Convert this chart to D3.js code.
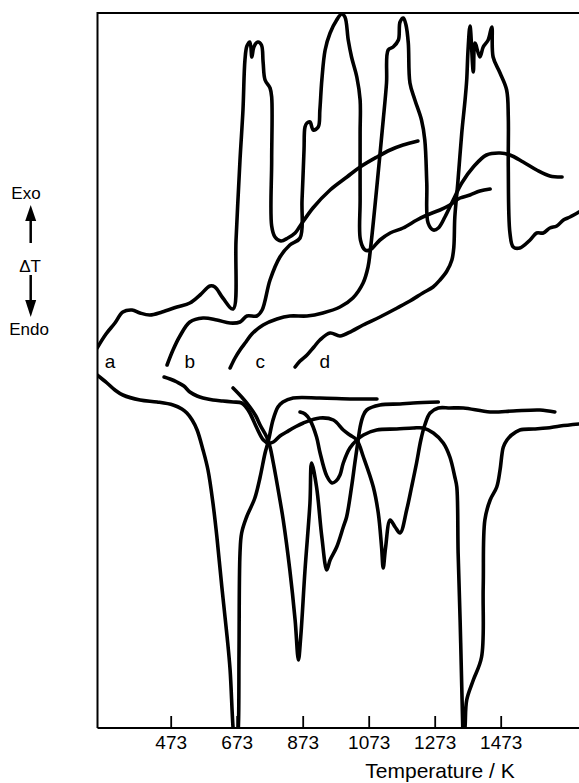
<!DOCTYPE html>
<html><head><meta charset="utf-8">
<script src="https://cdn.jsdelivr.net/npm/d3@7"></script>
<style>body{margin:0;background:#fff} svg{display:block}</style>
</head><body>
<script>
// Temperature axis ticks (K)
const tempTicks = [473, 673, 873, 1073, 1273, 1473];
// Curve labels and where they sit (temperature, ΔT arbitrary units)
const curveNames = ["a", "b", "c", "d"];
const labelTemps = [289, 531, 744, 940];
const labelLevel = 36.0;

// Heating traces (exo upward) — [Temperature K, ΔT arbitrary units]
const heatA = [[250,38.0],[277,39.4],[304,40.5],[328,41.6],[356,41.8],[380,41.5],[410,41.3],[447,41.6],[492,42.1],[531,42.5],[562,43.3],[592,44.2],[607,44.1],[631,43.0],[662,41.9],[671,48.8],[683,56.8],[692,61.8],[698,66.8],[704,68.2],[713,68.6],[719,67.1],[725,68.1],[737,68.6],[748,68.3],[753,66.6],[759,64.8],[774,64.0],[779,63.1],[779,56.8],[779,50.2],[789,49.1],[807,48.7],[828,49.0],[850,49.5],[865,50.2],[904,52.0],[956,53.8],[1007,55.1],[1047,56.1],[1098,57.1],[1138,57.8],[1177,58.3],[1222,58.7]];
const heatB = [[462,36.3],[480,37.8],[501,39.2],[531,40.6],[571,41.0],[613,40.8],[653,40.5],[683,40.6],[704,41.2],[734,41.2],[750,41.8],[774,44.8],[804,47.1],[834,48.3],[865,49.0],[871,52.8],[877,57.8],[880,60.1],[886,60.5],[895,60.6],[905,59.8],[920,60.1],[925,61.8],[931,64.8],[941,67.8],[956,69.5],[976,70.8],[991,71.4],[1001,71.1],[1011,68.8],[1021,67.1],[1037,65.1],[1047,62.8],[1047,59.5],[1047,52.8],[1048,48.8],[1062,47.8],[1077,47.8],[1107,48.8],[1138,49.5],[1177,50.0],[1219,50.8],[1250,51.3],[1289,51.8],[1319,52.3],[1350,53.0],[1380,53.3],[1410,53.7],[1441,53.9]];
const heatC = [[653,36.0],[668,37.0],[683,37.8],[701,38.6],[719,39.4],[753,40.3],[795,40.9],[834,41.2],[886,41.2],[934,41.5],[986,42.1],[1025,43.0],[1056,44.5],[1071,46.1],[1077,47.5],[1117,60.8],[1127,64.5],[1132,67.8],[1147,68.1],[1163,68.8],[1168,70.6],[1178,71.0],[1186,70.3],[1193,68.5],[1198,64.5],[1213,62.8],[1233,60.8],[1243,58.8],[1249,54.5],[1253,50.5],[1269,49.8],[1284,50.0],[1304,51.1],[1329,52.8],[1355,54.5],[1390,56.1],[1430,57.3],[1471,57.5],[1501,57.3],[1541,56.6],[1582,55.8],[1622,55.2],[1659,55.1]];
const heatD = [[850,36.1],[865,36.7],[886,37.3],[907,38.1],[925,38.8],[956,39.5],[986,39.2],[1022,39.7],[1056,40.3],[1107,41.1],[1159,42.0],[1198,42.7],[1237,43.5],[1268,44.1],[1289,44.8],[1310,45.7],[1325,46.8],[1331,48.1],[1334,51.1],[1343,54.5],[1355,59.5],[1365,62.8],[1370,64.8],[1374,67.8],[1380,70.2],[1390,65.6],[1395,68.5],[1410,67.1],[1420,68.1],[1435,68.8],[1446,70.1],[1450,67.1],[1471,65.5],[1491,63.8],[1496,61.1],[1496,56.1],[1501,49.5],[1511,48.1],[1531,48.0],[1562,48.8],[1582,49.5],[1602,49.5],[1622,50.0],[1643,50.2],[1663,50.8],[1683,51.1],[1710,51.6]];

// Cooling traces (endo downward)
const coolA = [[250,35.3],[280,34.5],[304,33.8],[328,33.3],[380,32.8],[432,32.6],[480,32.3],[507,31.9],[522,31.5],[538,30.8],[553,29.8],[571,27.8],[586,25.8],[601,22.5],[613,19.1],[628,14.1],[644,9.1],[653,5.8],[662,0],[671,-3.2],[678,0],[680,7.5],[683,17.5],[688,19.5],[703,21.1],[728,23.0],[744,25.1],[759,27.5],[769,28.7],[783,30.8],[798,32.1],[813,32.6],[844,33.0],[925,33.0],[1025,32.9],[1098,32.9]];
const coolB = [[453,35.1],[471,34.9],[492,34.6],[513,34.2],[531,33.6],[553,33.2],[571,33.0],[601,32.8],[631,32.7],[662,32.6],[688,32.5],[701,32.1],[713,31.5],[734,30.0],[754,28.8],[769,28.5],[784,28.6],[804,29.2],[824,29.6],[850,30.1],[875,30.5],[925,31.0],[966,30.8],[996,29.8],[1016,29.3],[1037,28.8],[1057,27.1],[1087,24.1],[1102,21.5],[1112,18.1],[1117,16.0],[1124,18.0],[1138,20.8],[1153,20.1],[1168,19.5],[1188,21.8],[1203,24.1],[1218,26.5],[1231,28.8],[1243,30.3],[1259,31.5],[1284,32.0],[1319,32.0],[1360,32.0],[1441,31.6],[1511,31.7],[1592,31.8],[1637,31.6]];
const coolC = [[662,34.0],[688,33.1],[713,32.1],[731,31.2],[744,30.3],[764,29.1],[774,28.1],[784,26.5],[804,22.8],[814,20.8],[834,15.8],[850,10.8],[860,6.8],[867,9.1],[880,15.8],[895,22.5],[900,26.5],[915,24.1],[931,19.1],[946,15.8],[956,16.8],[976,18.1],[996,20.1],[1006,21.1],[1021,24.1],[1031,26.5],[1041,28.8],[1047,30.1],[1056,31.2],[1067,31.8],[1107,32.3],[1168,32.4],[1208,32.5],[1284,32.6]];
const coolD = [[865,31.6],[880,31.4],[895,30.8],[915,29.1],[925,27.6],[946,25.2],[962,24.5],[974,24.7],[986,25.3],[996,26.5],[1016,28.0],[1037,28.8],[1057,29.3],[1097,29.8],[1158,29.9],[1208,30.0],[1238,30.0],[1269,29.5],[1299,28.5],[1319,27.1],[1334,25.1],[1340,24.1],[1344,17.5],[1350,10.8],[1355,4.1],[1358,0.1],[1360,-1.7],[1365,0.1],[1370,2.8],[1390,4.8],[1415,7.1],[1420,14.1],[1425,20.8],[1441,22.8],[1461,24.1],[1471,25.8],[1481,28.1],[1492,28.8],[1506,29.3],[1531,29.8],[1572,29.9],[1612,30.0],[1653,30.2],[1710,30.4]];

const W = 579, H = 783;
const plotLeft = 97.5, plotTop = 13, plotBottom = 728, plotRight = 579;

const svg = d3.select("body").append("svg").attr("width", W).attr("height", H);

const x = d3.scaleLinear().domain([473, 1473]).range([170.7, 500.7]);
const y = d3.scaleLinear().domain([0, 71.5]).range([plotBottom, plotTop]);

svg.append("clipPath").attr("id", "plotclip").append("rect")
  .attr("x", plotLeft).attr("y", plotTop - 4)
  .attr("width", plotRight - plotLeft).attr("height", plotBottom - plotTop + 4);

const line = d3.line()
  .x(d => x(d[0])).y(d => y(d[1]))
  .curve(d3.curveCatmullRom.alpha(0.5));

const series = [heatA, heatB, heatC, heatD, coolA, coolB, coolC, coolD];
svg.append("g").attr("clip-path", "url(#plotclip)")
  .selectAll("path").data(series).join("path")
  .attr("d", line)
  .attr("fill", "none").attr("stroke", "#000")
  .attr("stroke-width", 3.6)
  .attr("stroke-linejoin", "round").attr("stroke-linecap", "round");

// frame (left + top) and baseline
svg.append("path")
  .attr("d", `M${plotLeft},${plotBottom}V${plotTop}H${plotRight}`)
  .attr("fill", "none").attr("stroke", "#000").attr("stroke-width", 2);
svg.append("path")
  .attr("d", `M${plotLeft},${plotBottom}H${plotRight}`)
  .attr("fill", "none").attr("stroke", "#000").attr("stroke-width", 2);

// temperature axis
const ax = svg.append("g").attr("transform", `translate(0,${plotBottom})`)
  .call(d3.axisBottom(x).tickValues(tempTicks).tickSize(-12).tickPadding(8).tickFormat(d3.format("d")));
ax.select(".domain").remove();
ax.selectAll(".tick line").attr("stroke", "#000").attr("stroke-width", 1.8);
ax.selectAll(".tick text").attr("fill", "#000")
  .style("font-family", "'Liberation Sans', Arial, sans-serif").style("font-size", "19px");

svg.append("text").attr("x", 440).attr("y", 778)
  .attr("text-anchor", "middle")
  .style("font-family", "'Liberation Sans', Arial, sans-serif").style("font-size", "21px")
  .text("Temperature / K");

// curve labels
svg.append("g").selectAll("text").data(curveNames).join("text")
  .attr("x", (d, i) => x(labelTemps[i])).attr("y", y(labelLevel))
  .attr("text-anchor", "middle")
  .style("font-family", "'Liberation Sans', Arial, sans-serif").style("font-size", "19px")
  .text(d => d);

// ΔT annotation
const lf = "'Liberation Sans', Arial, sans-serif";
svg.append("text").attr("x", 26).attr("y", 199).attr("text-anchor", "middle")
  .style("font-family", lf).style("font-size", "17px").text("Exo");
svg.append("text").attr("x", 30).attr("y", 272).attr("text-anchor", "middle")
  .style("font-family", lf).style("font-size", "17px").text("ΔT");
svg.append("text").attr("x", 29).attr("y", 335).attr("text-anchor", "middle")
  .style("font-family", lf).style("font-size", "17px").text("Endo");
const ax0 = 30.7;
svg.append("path").attr("d", `M${ax0},221V243`).attr("stroke", "#000").attr("stroke-width", 2.5);
svg.append("path").attr("d", `M${ax0},205L${ax0-5.5},221L${ax0+5.5},221Z`).attr("fill", "#000");
svg.append("path").attr("d", `M${ax0},275V301`).attr("stroke", "#000").attr("stroke-width", 2.5);
svg.append("path").attr("d", `M${ax0},317L${ax0-5.5},300L${ax0+5.5},300Z`).attr("fill", "#000");
</script>
</body></html>
